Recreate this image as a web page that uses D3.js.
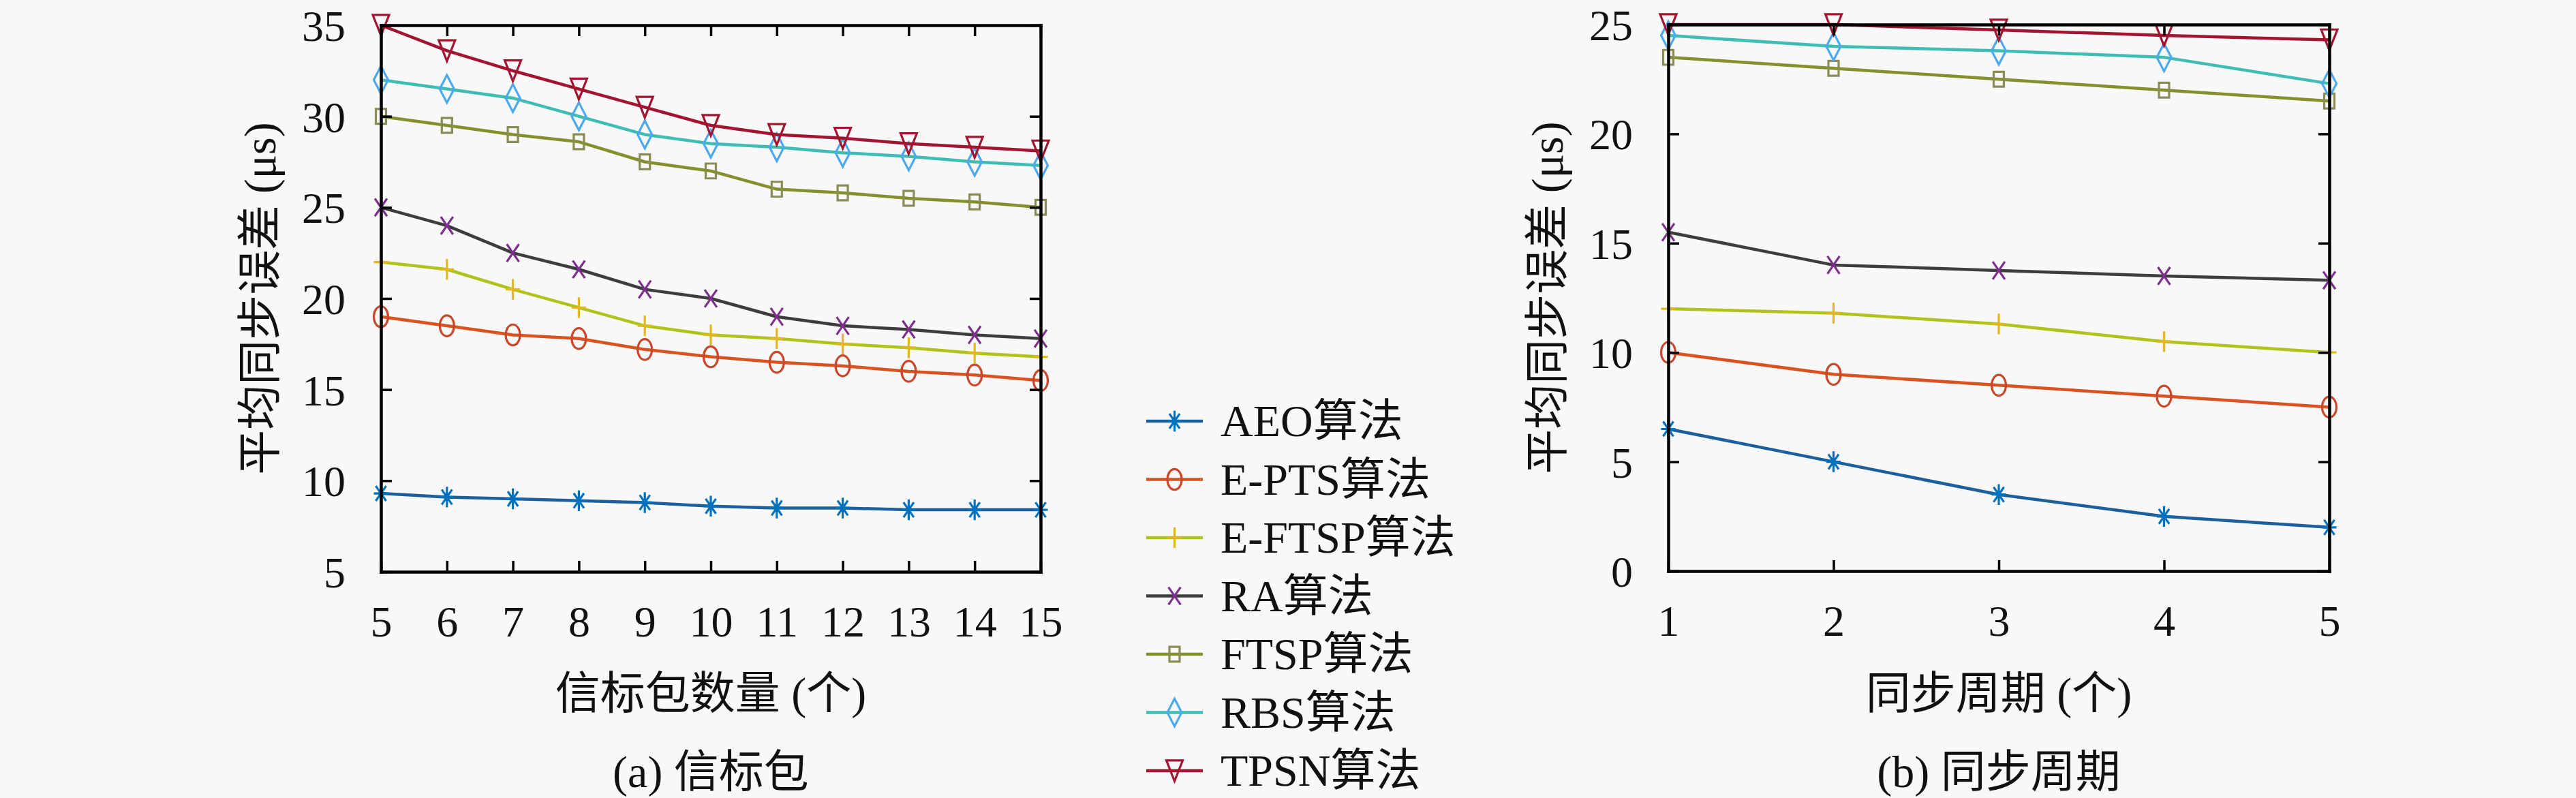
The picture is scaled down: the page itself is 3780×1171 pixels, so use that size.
<!DOCTYPE html>
<html>
<head>
<meta charset="utf-8">
<script src="https://cdn.jsdelivr.net/npm/d3@7"></script>
<style>
  body { margin: 0; background: #f8f8f8; }
  text { fill: #111; }
</style>
</head>
<body>
<div id="chart"></div>
<script>
// 平均同步误差对比：(a) 信标包  (b) 同步周期
var algorithms = ["AEO算法", "E-PTS算法", "E-FTSP算法", "RA算法", "FTSP算法", "RBS算法", "TPSN算法"];
var markers = ["asterisk", "circle", "plus", "cross", "square", "diamond", "triangle"];
var lineColors = ["#1c5f9c", "#d9521f", "#b0c21c", "#3d3d3d", "#858f2c", "#3fbcb4", "#a2142f"];
var markerColors = ["#0072bd", "#c9472b", "#e3b81f", "#7e2f8e", "#8b8b55", "#4da9ee", "#a2142f"];

// (a) 信标包数量
var beaconCounts = [5, 6, 7, 8, 9, 10, 11, 12, 13, 14, 15];
var beaconErrors = [
  [9.3, 9.1, 9.0, 8.9, 8.8, 8.6, 8.5, 8.5, 8.4, 8.4, 8.4],
  [19.0, 18.5, 18.0, 17.8, 17.2, 16.8, 16.5, 16.3, 16.0, 15.8, 15.5],
  [22.0, 21.6, 20.5, 19.5, 18.5, 18.0, 17.8, 17.5, 17.3, 17.0, 16.8],
  [25.0, 24.0, 22.5, 21.6, 20.5, 20.0, 19.0, 18.5, 18.3, 18.0, 17.8],
  [30.0, 29.5, 29.0, 28.6, 27.5, 27.0, 26.0, 25.8, 25.5, 25.3, 25.0],
  [32.0, 31.5, 31.0, 30.0, 29.0, 28.5, 28.3, 28.0, 27.8, 27.5, 27.3],
  [35.0, 33.6, 32.5, 31.5, 30.5, 29.5, 29.0, 28.8, 28.5, 28.3, 28.1]
];
var beaconYTicks = [5, 10, 15, 20, 25, 30, 35];

// (b) 同步周期
var periods = [1, 2, 3, 4, 5];
var periodErrors = [
  [6.5, 5.0, 3.5, 2.5, 2.0],
  [10.0, 9.0, 8.5, 8.0, 7.5],
  [12.0, 11.8, 11.3, 10.5, 10.0],
  [15.5, 14.0, 13.75, 13.5, 13.3],
  [23.5, 23.0, 22.5, 22.0, 21.5],
  [24.5, 24.0, 23.8, 23.5, 22.3],
  [25.0, 25.0, 24.75, 24.5, 24.3]
];
var periodYTicks = [0, 5, 10, 15, 20, 25];

var W = 3780, H = 1171;
var serif = "'Liberation Serif', 'Noto Sans CJK SC', serif";
var tickFont = 64, titleFont = 66;

var svg = d3.select("#chart").append("svg")
  .attr("width", W).attr("height", H)
  .style("background", "#f8f8f8");

// marker glyphs (vertically stretched like the source figure)
var ky = 1.45;
function markerPath(type) {
  var r = 10.5;
  switch (type) {
    case "asterisk":
      var d = r * 0.72;
      return "M0," + (-r * ky) + "V" + (r * ky) + "M" + (-r) + ",0H" + r +
        "M" + (-d) + "," + (-d * ky) + "L" + d + "," + (d * ky) +
        "M" + (-d) + "," + (d * ky) + "L" + d + "," + (-d * ky);
    case "circle":
      return "M" + (-r) + ",0A" + r + "," + (r * ky) + " 0 1,0 " + r + ",0A" + r + "," + (r * ky) + " 0 1,0 " + (-r) + ",0Z";
    case "plus":
      return "M0," + (-r * ky) + "V" + (r * ky) + "M" + (-r) + ",0H" + r;
    case "cross":
      var c = r * 0.85;
      return "M" + (-c) + "," + (-c * ky) + "L" + c + "," + (c * ky) +
        "M" + (-c) + "," + (c * ky) + "L" + c + "," + (-c * ky);
    case "square":
      var s = 7.5;
      return "M" + (-s) + "," + (-s * ky) + "H" + s + "V" + (s * ky) + "H" + (-s) + "Z";
    case "diamond":
      return "M0," + (-14 * ky) + "L" + r + ",0L0," + (14 * ky) + "L" + (-r) + ",0Z";
    case "triangle":
      return "M" + (-12) + "," + (-r * ky) + "H12L0," + (r * ky) + "Z";
  }
}

function drawPanel(opt) {
  var x = d3.scaleLinear().domain(opt.xDomain).range([opt.left, opt.right]);
  var y = d3.scaleLinear().domain(opt.yDomain).range([opt.bottom, opt.top]);
  var g = svg.append("g");

  // series lines and markers
  opt.series.forEach(function (vals, i) {
    var pts = vals.map(function (v, j) { return [opt.xs[j], v]; });
    var line = d3.line().x(function (d) { return x(d[0]); }).y(function (d) { return y(d[1]); });
    var sg = g.append("g");
    sg.append("path")
      .attr("d", line(pts))
      .attr("fill", "none")
      .attr("stroke", lineColors[i])
      .attr("stroke-width", 4.5)
      .attr("stroke-linejoin", "round");
    sg.selectAll("path.mk")
      .data(pts)
      .enter().append("path")
      .attr("class", "mk")
      .attr("transform", function (d) { return "translate(" + x(d[0]) + "," + y(d[1]) + ")"; })
      .attr("d", markerPath(markers[i]))
      .attr("fill", "none")
      .attr("stroke", markerColors[i])
      .attr("stroke-width", 3.2);
  });

  // axes (inward ticks, closed box)
  var bottomAxis = g.append("g")
    .attr("transform", "translate(0," + opt.bottom + ")")
    .call(d3.axisBottom(x).tickValues(opt.xs).tickSizeInner(-16).tickSizeOuter(0).tickFormat(d3.format("d")));
  bottomAxis.selectAll("text")
    .attr("y", 95).attr("dy", 0);

  var leftAxis = g.append("g")
    .attr("transform", "translate(" + opt.left + ",0)")
    .call(d3.axisLeft(y).tickValues(opt.yTicks).tickSizeInner(-16).tickSizeOuter(0).tickFormat(d3.format("d")));
  leftAxis.selectAll("text")
    .attr("x", -52).attr("dy", "0.35em");

  [bottomAxis, leftAxis].forEach(function (a) {
    a.attr("font-family", serif).attr("font-size", tickFont);
  });

  g.append("g")
    .attr("transform", "translate(0," + opt.top + ")")
    .call(d3.axisTop(x).tickValues(opt.xs).tickSizeInner(-16).tickSizeOuter(0).tickFormat(""));
  g.append("g")
    .attr("transform", "translate(" + opt.right + ",0)")
    .call(d3.axisRight(y).tickValues(opt.yTicks).tickSizeInner(-16).tickSizeOuter(0).tickFormat(""));

  g.selectAll(".domain").attr("stroke", "#000").attr("stroke-width", 4.5).attr("stroke-linecap", "square");
  g.selectAll(".tick line").attr("stroke", "#000").attr("stroke-width", 3.5);
  g.selectAll(".tick text")
    .style("font-family", serif)
    .style("font-size", tickFont + "px")
    .attr("fill", "#111");

  var cx = (opt.left + opt.right) / 2;
  g.append("text")
    .attr("x", cx).attr("y", 1040)
    .attr("text-anchor", "middle")
    .style("font-family", serif).style("font-size", titleFont + "px")
    .text(opt.xTitle);
  g.append("text")
    .attr("x", cx).attr("y", 1155)
    .attr("text-anchor", "middle")
    .style("font-family", serif).style("font-size", titleFont + "px")
    .text(opt.caption);
  g.append("text")
    .attr("transform", "translate(" + (opt.left - 178) + "," + ((opt.top + opt.bottom) / 2) + ") rotate(-90)")
    .attr("text-anchor", "middle")
    .attr("dy", "0.35em")
    .style("font-family", serif).style("font-size", titleFont + "px")
    .text("平均同步误差 (μs)");
}

drawPanel({
  left: 559, right: 1527, top: 37, bottom: 839,
  xDomain: [5, 15], yDomain: [5, 35],
  xs: beaconCounts, yTicks: beaconYTicks, series: beaconErrors,
  xTitle: "信标包数量 (个)", caption: "(a) 信标包"
});

drawPanel({
  left: 2448, right: 3418, top: 36, bottom: 838,
  xDomain: [1, 5], yDomain: [0, 25],
  xs: periods, yTicks: periodYTicks, series: periodErrors,
  xTitle: "同步周期 (个)", caption: "(b) 同步周期"
});

// legend
var legend = svg.append("g")
  .selectAll("g")
  .data(algorithms)
  .enter().append("g")
  .attr("transform", function (d, i) { return "translate(0," + (618 + i * 85.5) + ")"; });
legend.append("line")
  .attr("x1", 1682).attr("x2", 1765)
  .attr("stroke", function (d, i) { return lineColors[i]; })
  .attr("stroke-width", 4.5);
legend.append("path")
  .attr("transform", "translate(1723.5,0)")
  .attr("d", function (d, i) { return markerPath(markers[i]); })
  .attr("fill", "none")
  .attr("stroke", function (d, i) { return markerColors[i]; })
  .attr("stroke-width", 3.2);
legend.append("text")
  .attr("x", 1791).attr("y", 22)
  .style("font-family", serif).style("font-size", "66px")
  .text(function (d) { return d; });
</script>
</body>
</html>
